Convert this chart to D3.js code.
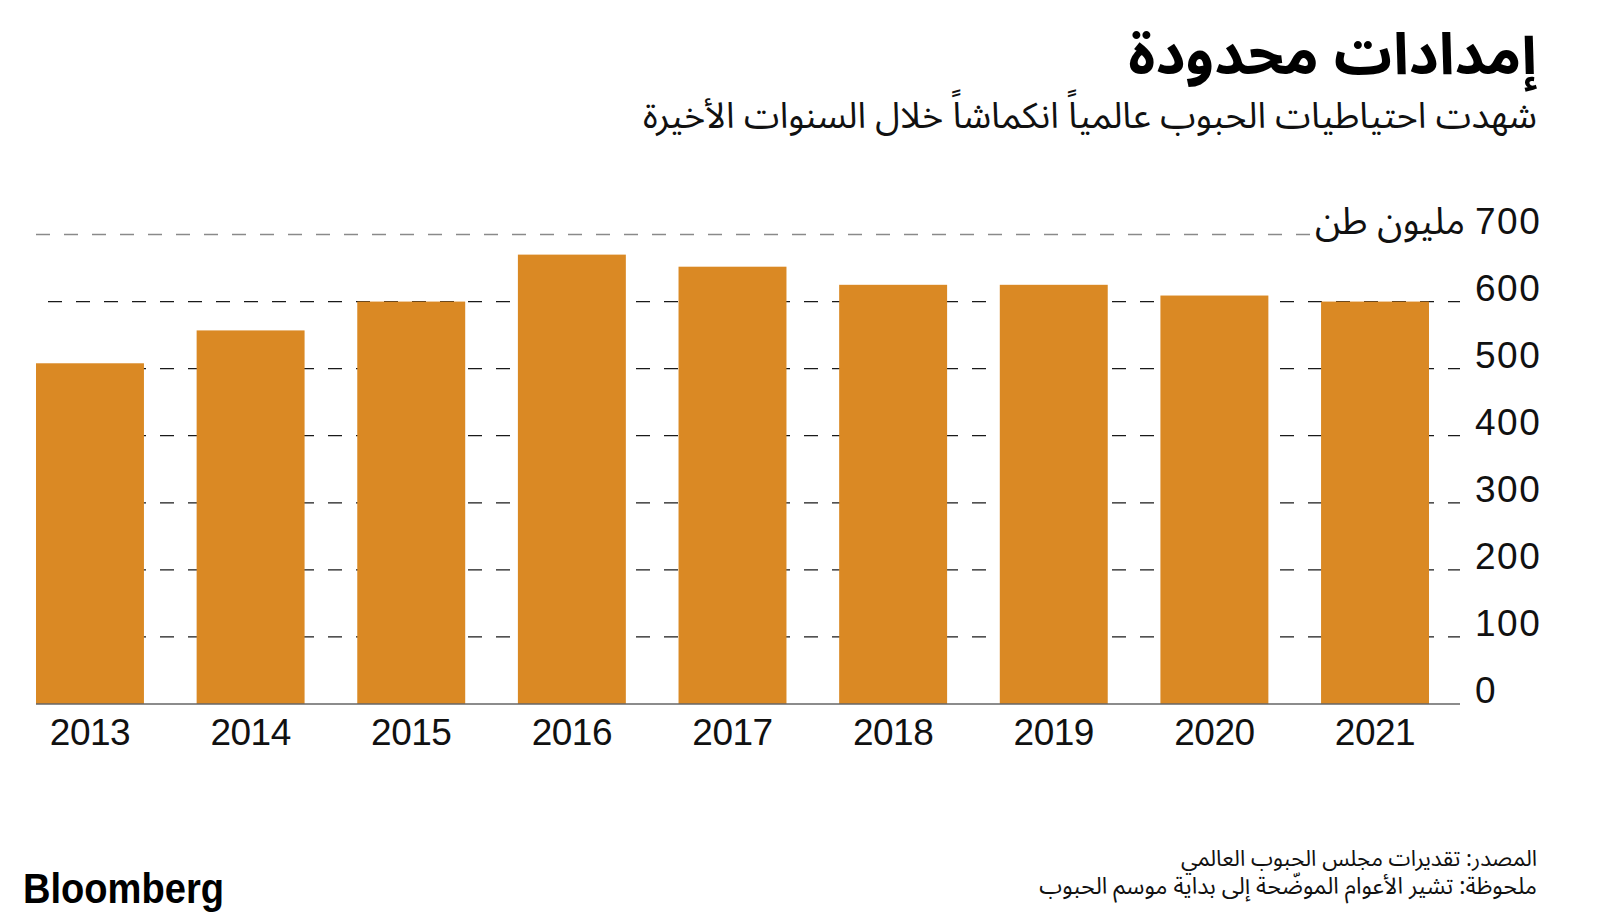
<!DOCTYPE html>
<html><head><meta charset="utf-8">
<script src="https://cdn.jsdelivr.net/npm/d3@7"></script>
<style>
html,body{margin:0;padding:0;background:#fff;}
svg{display:block;}
.ar{font-family:"Noto Sans Arabic","Noto Kufi Arabic","DejaVu Sans",sans-serif;}
.num{font-family:"Liberation Sans",Arial,sans-serif;}
</style>
</head><body>
<svg id="chart" width="1600" height="917"></svg>
<script>
const years = ["2013","2014","2015","2016","2017","2018","2019","2020","2021"];
const stocks = [508, 557, 600, 670, 652, 625, 625, 609, 600];
const yTicks = [0,100,200,300,400,500,600,700];
const title = "إمدادات محدودة";
const subtitle = "شهدت احتياطيات الحبوب عالمياً انكماشاً خلال السنوات الأخيرة";
const unitLabel = "مليون طن";
const sourceText = "المصدر: تقديرات مجلس الحبوب العالمي";
const noteText = "ملحوظة: تشير الأعوام الموضّحة إلى بداية موسم الحبوب";

const svg = d3.select("#chart");
const x = d3.scaleBand().domain(years).range([36, 1429]).paddingInner(0.328).paddingOuter(0);
const y = d3.scaleLinear().domain([0,700]).range([704, 234.5]);

function fitText(sel, target){
  const w = sel.node().getComputedTextLength();
  const fs = parseFloat(sel.attr("font-size"));
  sel.attr("font-size", fs*target/w);
}

// gridlines
const grid = svg.append("g");
grid.selectAll("line").data(yTicks.filter(d=>d>0)).join("line")
  .attr("x1", d=> d===700 ? 36 : 48)
  .attr("x2", d=> d===700 ? 1312 : 1460)
  .attr("y1", d=>y(d)).attr("y2", d=>y(d))
  .attr("stroke", d=> d===700 ? "#8a8a8a" : "#1a1a1a")
  .attr("stroke-width", 1.3)
  .attr("stroke-dasharray", "14,14");

// bars
svg.append("g").selectAll("rect").data(years).join("rect")
  .attr("x", d=>x(d)).attr("width", x.bandwidth())
  .attr("y", (d,i)=>y(stocks[i])).attr("height", (d,i)=>y(0)-y(stocks[i]))
  .attr("fill", "#DA8924");

// baseline
svg.append("line").attr("x1",36).attr("x2",1460).attr("y1",y(0)).attr("y2",y(0))
  .attr("stroke","#666").attr("stroke-width",1.5);

// x labels
svg.append("g").selectAll("text").data(years).join("text")
  .attr("class","num")
  .attr("x", d=>x(d)+x.bandwidth()/2).attr("y", 745)
  .attr("text-anchor","middle").attr("font-size",37).attr("fill","#111")
  .attr("letter-spacing",-0.5)
  .text(d=>d);

// y labels
svg.append("g").selectAll("text").data(yTicks).join("text")
  .attr("class","num")
  .attr("x", 1475).attr("y", d=>y(d)-1)
  .attr("font-size",37).attr("fill","#111").attr("letter-spacing",1.5)
  .text(d=>d);

const unit = svg.append("text").attr("class","ar")
  .attr("x",1465).attr("y",y(700)-1).attr("text-anchor","start")
  .attr("font-size",32).attr("fill","#111").attr("direction","rtl")
  .text(unitLabel);
fitText(unit, 150);

// title
const t = svg.append("text").attr("class","ar")
  .attr("x",1537).attr("y",74).attr("text-anchor","start").attr("direction","rtl")
  .attr("font-size",50).attr("font-weight","bold").attr("fill","#000")
  .text(title);
fitText(t, 409);

const st = svg.append("text").attr("class","ar")
  .attr("x",1537).attr("y",128).attr("text-anchor","start").attr("direction","rtl")
  .attr("font-size",32).attr("fill","#111")
  .text(subtitle);
fitText(st, 894);

const s1 = svg.append("text").attr("class","ar")
  .attr("x",1537).attr("y",866).attr("text-anchor","start").attr("direction","rtl")
  .attr("font-size",20).attr("fill","#111").text(sourceText);
fitText(s1, 356);
const s2 = svg.append("text").attr("class","ar")
  .attr("x",1537).attr("y",894).attr("text-anchor","start").attr("direction","rtl")
  .attr("font-size",20).attr("fill","#111").text(noteText);
fitText(s2, 498);

// logo
svg.append("text").attr("x",23).attr("y",903)
  .attr("font-family","'Liberation Sans Narrow','Liberation Sans',Arial,sans-serif")
  .attr("font-weight","bold").attr("font-size",42).attr("fill","#000")
  .attr("textLength",201).attr("lengthAdjust","spacingAndGlyphs")
  .text("Bloomberg");
</script>
</body></html>
